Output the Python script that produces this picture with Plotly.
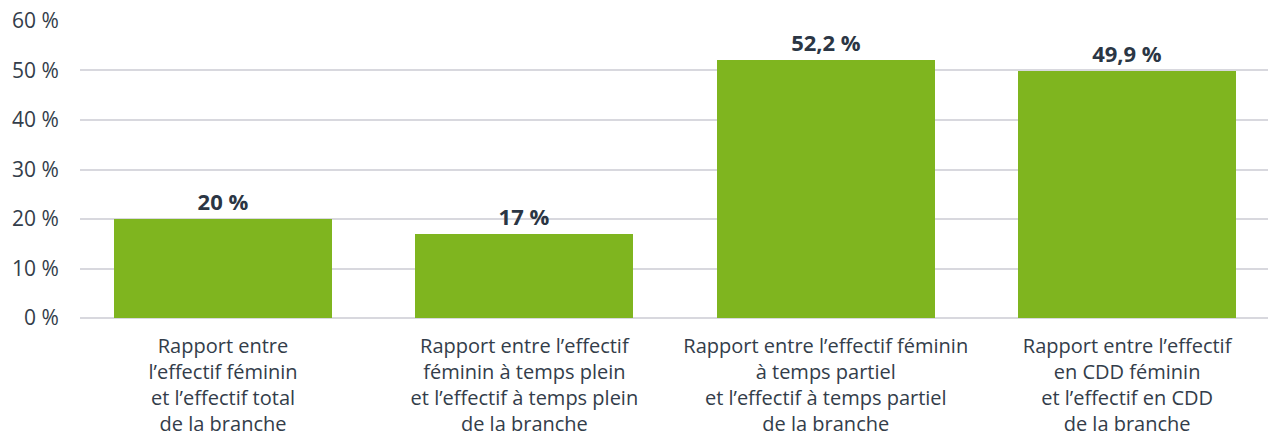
import plotly.graph_objects as go

categories = [
    "Rapport entre<br>l’effectif féminin<br>et l’effectif total<br>de la branche",
    "Rapport entre l’effectif<br>féminin à temps plein<br>et l’effectif à temps plein<br>de la branche",
    "Rapport entre l’effectif féminin<br>à temps partiel<br>et l’effectif à temps partiel<br>de la branche",
    "Rapport entre l’effectif<br>en CDD féminin<br>et l’effectif en CDD<br>de la branche",
]
values = [20, 17, 52.2, 49.9]
value_labels = ["20 %", "17 %", "52,2 %", "49,9 %"]
y_ticks = [0, 10, 20, 30, 40, 50, 60]
y_tick_labels = ["0 %", "10 %", "20 %", "30 %", "40 %", "50 %", "60 %"]

FONT = "Open Sans"
TEXT = "#333d4a"

fig = go.Figure(
    go.Bar(
        x=list(range(len(categories))),
        y=values,
        width=0.7235,
        marker=dict(color="#7fb51f", line=dict(width=0)),
        text=value_labels,
        textposition="outside",
        textfont=dict(family=FONT, size=22, color="#2b3644", weight="bold"),
        cliponaxis=False,
    )
)

fig.update_layout(
    width=1268,
    height=424,
    margin=dict(l=72, r=0, t=12, b=114, autoexpand=False),
    paper_bgcolor="white",
    plot_bgcolor="white",
    showlegend=False,
    font=dict(family=FONT, color=TEXT, size=20),
    bargap=0,
)
fig.update_xaxes(
    range=[-0.4746, 3.494],
    tickmode="array",
    tickvals=list(range(len(categories))),
    ticktext=categories,
    tickfont=dict(family=FONT, size=20, color=TEXT),
    ticks="outside",
    ticklen=10,
    tickcolor="rgba(0,0,0,0)",
    showgrid=False,
    showline=False,
    zeroline=False,
    automargin=False,
    ticklabeloverflow="allow",
)
fig.update_yaxes(
    range=[0, 60.2],
    tickmode="array",
    tickvals=y_ticks,
    ticktext=y_tick_labels,
    tickfont=dict(family=FONT, size=21, color=TEXT),
    ticks="outside",
    ticklen=16,
    tickcolor="rgba(0,0,0,0)",
    showgrid=True,
    gridcolor="#d8d8de",
    gridwidth=1.5,
    zeroline=True,
    zerolinecolor="#d8d8de",
    zerolinewidth=1.5,
    showline=False,
    automargin=False,
    ticklabeloverflow="allow",
)

fig.write_html("out.html")
